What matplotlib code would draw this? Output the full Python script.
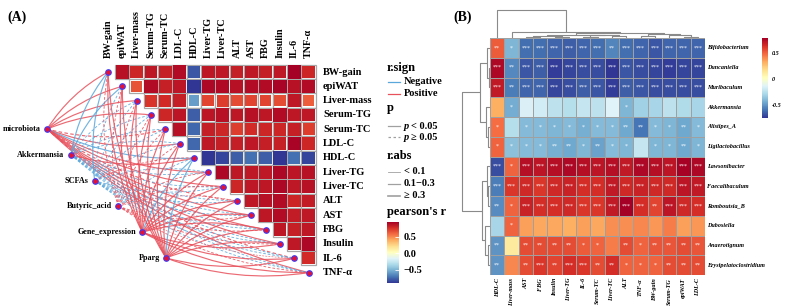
import numpy as np
import matplotlib.pyplot as plt
from matplotlib.patches import Rectangle, PathPatch
from matplotlib.path import Path
from matplotlib.colors import Normalize
from matplotlib.lines import Line2D
from matplotlib.cm import ScalarMappable

# ======= data =======

# panel A: trait-trait correlations (upper triangle, row i / col j>i)
VARS_A = ["BW-gain", "epiWAT", "Liver-mass", "Serum-TG", "Serum-TC", "LDL-C", "HDL-C",
          "Liver-TG", "Liver-TC", "ALT", "AST", "FBG", "Insulin", "IL-6", "TNF-α"]
R_A = [
    [0.88, 0.80, 0.86, 0.82, 0.90, -0.80, 0.86, 0.85, 0.83, 0.85, 0.83, 0.85, 0.95, 0.80],
    [0.66, 0.90, 0.82, 0.87, -0.90, 0.92, 0.91, 0.88, 0.90, 0.90, 0.93, 0.88, 0.90],
    [0.75, 0.78, 0.83, -0.58, 0.70, 0.72, 0.68, 0.70, 0.70, 0.68, 0.85, 0.62],
    [0.80, 0.87, -0.78, 0.87, 0.88, 0.86, 0.88, 0.86, 0.90, 0.86, 0.85],
    [0.88, -0.75, 0.83, 0.80, 0.72, 0.78, 0.80, 0.80, 0.82, 0.72],
    [-0.75, 0.85, 0.83, 0.83, 0.85, 0.83, 0.82, 0.93, 0.80],
    [-0.90, -0.85, -0.78, -0.72, -0.78, -0.90, -0.72, -0.85],
    [0.92, 0.86, 0.85, 0.85, 0.92, 0.87, 0.88],
    [0.80, 0.85, 0.86, 0.92, 0.85, 0.88],
    [0.85, 0.88, 0.90, 0.80, 0.84],
    [0.86, 0.90, 0.84, 0.85],
    [0.86, 0.82, 0.85],
    [0.85, 0.92],
    [0.78],
]

# panel A: links from the left nodes to each trait
SOURCES = ["microbiota", "Akkermansia", "SCFAs", "Butyric_acid", "Gene_expression", "Pparg"]
LINK_R = [
    [0.42, 0.38, 0.35, 0.40, 0.36, 0.41, -0.32, 0.44, 0.40, 0.37, 0.39, 0.43, 0.41, 0.38, 0.36],
    [-0.36, -0.33, -0.28, -0.22, -0.25, -0.27, 0.30, -0.24, -0.21, -0.26, -0.23, -0.25, -0.22, -0.20, -0.24],
    [-0.30, -0.27, -0.18, -0.20, -0.15, -0.22, 0.26, -0.19, -0.17, -0.14, -0.16, -0.21, -0.18, -0.12, -0.15],
    [0.20, 0.15, 0.12, 0.18, 0.10, 0.16, -0.14, 0.17, 0.13, 0.08, 0.11, 0.19, 0.15, 0.09, 0.12],
    [0.48, 0.45, 0.40, 0.44, 0.38, 0.46, -0.42, 0.50, 0.47, 0.41, 0.43, 0.45, 0.49, 0.44, 0.40],
    [0.52, 0.50, 0.44, 0.48, 0.42, 0.49, -0.46, 0.53, 0.50, 0.45, 0.47, 0.48, 0.51, 0.46, 0.44],
]
LINK_P = [
    [0.01, 0.02, 0.04, 0.01, 0.08, 0.01, 0.03, 0.01, 0.02, 0.12, 0.03, 0.01, 0.02, 0.09, 0.03],
    [0.03, 0.04, 0.06, 0.15, 0.10, 0.08, 0.04, 0.12, 0.20, 0.09, 0.11, 0.10, 0.14, 0.20, 0.13],
    [0.04, 0.07, 0.20, 0.15, 0.30, 0.12, 0.09, 0.18, 0.25, 0.30, 0.26, 0.14, 0.20, 0.35, 0.28],
    [0.20, 0.30, 0.40, 0.25, 0.50, 0.30, 0.40, 0.30, 0.40, 0.60, 0.50, 0.20, 0.30, 0.60, 0.40],
    [0.01, 0.01, 0.02, 0.01, 0.03, 0.01, 0.02, 0.01, 0.01, 0.02, 0.01, 0.01, 0.01, 0.02, 0.03],
    [0.01, 0.01, 0.01, 0.01, 0.02, 0.01, 0.01, 0.01, 0.01, 0.01, 0.01, 0.01, 0.01, 0.01, 0.02],
]

# panel B: genus x trait correlations and significance stars
ROWS_B = ["Bifidobacterium", "Duncaniella", "Muribaculum", "Akkermansia", "Alistipes_A",
          "Ligilactobacillus", "Lawsonibacter", "Faecalibaculum", "Romboutsia_B", "Dubosiella",
          "Anaerotignum", "Erysipelatoclostridium"]
COLS_B = ["HDL-C", "Liver-mass", "AST", "FBG", "Insulin", "Liver-TG", "IL-6", "Serum-TC",
          "Liver-TC", "ALT", "TNF-α", "BW-gain", "Serum-TG", "epiWAT", "LDL-C"]
R_B = [
    [0.52, -0.42, -0.62, -0.62, -0.64, -0.66, -0.64, -0.62, -0.56, -0.62, -0.64, -0.68, -0.64, -0.64, -0.64],
    [0.76, -0.55, -0.68, -0.66, -0.74, -0.72, -0.70, -0.70, -0.76, -0.68, -0.70, -0.72, -0.74, -0.72, -0.72],
    [0.70, -0.58, -0.64, -0.64, -0.72, -0.70, -0.66, -0.68, -0.74, -0.66, -0.68, -0.70, -0.70, -0.70, -0.70],
    [0.32, -0.45, -0.16, -0.18, -0.24, -0.26, -0.22, -0.24, -0.14, -0.42, -0.32, -0.30, -0.24, -0.28, -0.30],
    [0.48, -0.26, -0.40, -0.40, -0.42, -0.40, -0.44, -0.40, -0.40, -0.46, -0.60, -0.40, -0.42, -0.46, -0.40],
    [0.50, -0.38, -0.40, -0.40, -0.44, -0.46, -0.42, -0.48, -0.40, -0.42, -0.22, -0.42, -0.42, -0.46, -0.42],
    [-0.70, 0.50, 0.74, 0.72, 0.74, 0.76, 0.74, 0.72, 0.74, 0.70, 0.76, 0.74, 0.72, 0.78, 0.76],
    [-0.58, 0.62, 0.66, 0.62, 0.66, 0.68, 0.64, 0.64, 0.70, 0.66, 0.68, 0.66, 0.66, 0.72, 0.70],
    [-0.54, 0.50, 0.68, 0.64, 0.64, 0.66, 0.62, 0.62, 0.70, 0.79, 0.64, 0.58, 0.72, 0.66, 0.64],
    [-0.30, 0.50, 0.36, 0.34, 0.34, 0.32, 0.36, 0.34, 0.40, 0.40, 0.42, 0.38, 0.44, 0.36, 0.38],
    [-0.52, 0.12, 0.56, 0.56, 0.56, 0.56, 0.52, 0.50, 0.44, 0.56, 0.50, 0.54, 0.54, 0.56, 0.54],
    [-0.52, 0.42, 0.56, 0.62, 0.58, 0.64, 0.62, 0.56, 0.64, 0.50, 0.50, 0.50, 0.56, 0.56, 0.56],
]
STARS_B = [
    ["**", "*", "***", "***", "***", "***", "***", "***", "**", "***", "***", "***", "***", "***", "***"],
    ["***", "**", "***", "***", "***", "***", "***", "***", "***", "***", "***", "***", "***", "***", "***"],
    ["***", "**", "***", "***", "***", "***", "***", "***", "***", "***", "***", "***", "***", "***", "***"],
    ["", "*", "", "", "", "", "", "", "", "*", "", "", "", "", ""],
    ["*", "", "*", "*", "*", "*", "*", "*", "*", "**", "**", "*", "*", "**", "*"],
    ["*", "*", "*", "*", "**", "**", "*", "**", "*", "*", "", "*", "*", "**", "*"],
    ["***", "*", "***", "***", "***", "***", "***", "***", "***", "***", "***", "***", "***", "***", "***"],
    ["***", "***", "***", "***", "***", "***", "***", "***", "***", "***", "***", "***", "***", "***", "***"],
    ["**", "*", "***", "***", "***", "***", "***", "***", "***", "***", "***", "**", "***", "***", "***"],
    ["", "*", "", "", "", "", "", "", "", "", "", "", "", "", ""],
    ["**", "", "**", "**", "**", "**", "*", "*", "", "**", "*", "**", "**", "**", "**"],
    ["**", "", "**", "***", "**", "***", "***", "**", "**", "*", "*", "*", "**", "**", "**"],
]

# dendrograms: (height_px, left, right), leaves are display indices
ROW_TREE = (28, (10, (3, 0, (1, 1, 2)), (4, 3, (2, 4, 5))),
                (8, (3, 6, (2, 7, 8)), (5, 9, (2, 10, 11))))
COL_TREE = (28, 0, (6, 1, (5, (3.5, (2.5, (1.5, 2, 3), (1.2, 4, 5)), (2.8, (1.0, 6, 7), (2.0, 8, 9))),
                                (3.8, (2.5, 10, 11), (3.0, 12, (1.5, 13, 14))))))

# ======= style =======
W, H = 800, 308
CELL = 14.33
X0, Y0 = 108, 72
RED, BLUE = "#e8505b", "#5aa7dc"
CMAP = "RdYlBu_r"
SERIF = ["Liberation Serif", "DejaVu Serif"]

plt.rcParams["font.family"] = SERIF


def fx(x):
    return x / W


def fy(y):
    return 1 - y / H


fig = plt.figure(figsize=(W / 100, H / 100), dpi=100)

# ===== panel A =====
ax = fig.add_axes([0, 0, fx(385), 1])
ax.set_xlim((0 - X0) / CELL, (385 - X0) / CELL)
ax.set_ylim((H - Y0) / CELL, (0 - Y0) / CELL)
ax.axis("off")

all_r = [v for row in R_A for v in row]
norm_a = Normalize(min(all_r), max(all_r))
cmap_a = plt.get_cmap(CMAP)
n = len(VARS_A)
for i, row in enumerate(R_A):
    for k, r in enumerate(row):
        j = i + 1 + k
        ax.add_patch(Rectangle((j - 0.5, i - 0.5), 1, 1, facecolor="white",
                               edgecolor="#a8a8a8", lw=0.9, zorder=2))
        s = np.sqrt(abs(r)) * 0.97
        ax.add_patch(Rectangle((j - s / 2, i - s / 2), s, s, facecolor=cmap_a(norm_a(r)),
                               edgecolor="none", zorder=3))

for i, name in enumerate(VARS_A):
    ax.text(i, -0.95, name, rotation=90, ha="center", va="bottom", fontsize=7.3, fontweight="bold")
    ax.text(15.0, i, name, ha="left", va="center", fontsize=7.5, fontweight="bold")

src_x = np.linspace(-4.25, 4.05, len(SOURCES))
src_y = np.linspace(3.98, 12.98, len(SOURCES))


def width_of(r):
    a = abs(r)
    return 0.45 if a < 0.1 else (0.65 if a < 0.3 else 0.85)


for s, name in enumerate(SOURCES):
    p0 = np.array([src_x[s], src_y[s]])
    for t in range(n):
        r, p = LINK_R[s][t], LINK_P[s][t]
        p1 = np.array([t, t], dtype=float)
        d = p1 - p0
        perp = np.array([d[1], -d[0]]) if d[1] < 0 else np.array([-d[1], d[0]])
        ctrl = (p0 + p1) / 2 + 0.13 * perp
        path = Path([p0, ctrl, p1], [Path.MOVETO, Path.CURVE3, Path.CURVE3])
        ax.add_patch(PathPatch(path, fill=False, edgecolor=RED if r > 0 else BLUE,
                               lw=width_of(r), alpha=0.85,
                               linestyle="-" if p < 0.05 else (0, (3, 2)), zorder=1))
    ax.text(src_x[s] - 0.45, src_y[s], name, ha="right", va="center",
            fontsize=5.9, fontweight="bold")

ax.scatter(np.arange(n), np.arange(n), s=16, c="#e8112d", edgecolors="#3a3aff",
           linewidths=0.8, zorder=6)
ax.scatter(src_x, src_y, s=16, c="#e8112d", edgecolors="#3a3aff", linewidths=0.8, zorder=6)

fig.text(fx(7), fy(17), "(A)", fontsize=10, fontweight="bold", va="center")


# ----- legend A -----
def leg_title(y, txt):
    fig.text(fx(387), fy(y), txt, fontsize=9, fontweight="bold", va="center")


def leg_item(y, txt, color="#a0a0a0", ls="-", lw=0.9, italic_p=False):
    fig.add_artist(Line2D([fx(388), fx(400)], [fy(y), fy(y)], color=color, ls=ls, lw=lw))
    x = 404
    if italic_p:
        fig.text(fx(x), fy(y), "p", fontsize=7.5, fontweight="bold", style="italic", va="center")
        x += 7
    fig.text(fx(x), fy(y), txt, fontsize=7.5, fontweight="bold", va="center")


leg_title(68, "r.sign")
leg_item(82, "Negative", BLUE)
leg_item(94, "Positive", RED)
leg_title(108, "p")
leg_item(126, "< 0.05", italic_p=True)
leg_item(137, "≥ 0.05", ls=(0, (2, 2)), italic_p=True)
leg_title(156, "r.abs")
leg_item(172, "< 0.1", lw=0.6)
leg_item(184, "0.1−0.3", lw=0.9)
leg_item(196, "≥ 0.3", lw=1.2)
leg_title(212, "pearson's r")

cax_a = fig.add_axes([fx(387), fy(283), fx(12), 61 / H])
cb_a = fig.colorbar(ScalarMappable(norm=norm_a, cmap=cmap_a), cax=cax_a)
cb_a.outline.set_visible(False)
cb_a.set_ticks([0.5, 0.0, -0.5])
cb_a.set_ticklabels(["0.5", "0.0", "−0.5"])
cax_a.tick_params(length=3, width=0.6, color="white", direction="in", pad=3,
                  labelsize=7.5)
for lab in cax_a.get_yticklabels():
    lab.set_fontweight("bold")

# ===== panel B =====
vals = np.array(R_B)
norm_b = Normalize(vals.min(), vals.max())
axb = fig.add_axes([fx(490), fy(275), fx(215), 237 / H])
axb.pcolormesh(np.arange(16), np.arange(13), vals, cmap=CMAP, norm=norm_b,
               edgecolors="#a0a0a0", linewidth=0.4)
axb.set_xlim(0, 15)
axb.set_ylim(12, 0)
axb.axis("off")
for i in range(len(ROWS_B)):
    for j in range(len(COLS_B)):
        if STARS_B[i][j]:
            axb.text(j + 0.5, i + 0.5, STARS_B[i][j], color="white", fontsize=4.2,
                     ha="center", va="center")
for i, name in enumerate(ROWS_B):
    axb.text(15.15, i + 0.5, name, ha="left", va="center", fontsize=4.4,
             style="italic", fontweight="bold")
for j, name in enumerate(COLS_B):
    axb.text(j + 0.5, 12.15, name, ha="center", va="top", rotation=90, fontsize=4.4,
             style="italic", fontweight="bold")

fig.text(fx(453), fy(17), "(B)", fontsize=10, fontweight="bold", va="center")


def draw_tree(a, node, orient):
    if not isinstance(node, tuple):
        return node + 0.5, 0
    h, left, right = node
    c1, h1 = draw_tree(a, left, orient)
    c2, h2 = draw_tree(a, right, orient)
    xs, ys = [c1, c1, c2, c2], [h1, h, h, h2]
    if orient == "left":
        xs, ys = ys, xs
    a.plot(xs, ys, color="#8a8a8a", lw=0.8, solid_capstyle="butt")
    return (c1 + c2) / 2, h


axr = fig.add_axes([fx(461), fy(275), fx(29), 237 / H])
draw_tree(axr, ROW_TREE, "left")
axr.set_xlim(29, 0)
axr.set_ylim(12, 0)
axr.axis("off")

axc = fig.add_axes([fx(490), fy(38), fx(215), 29 / H])
draw_tree(axc, COL_TREE, "top")
axc.set_xlim(0, 15)
axc.set_ylim(0, 29)
axc.axis("off")

cax_b = fig.add_axes([fx(762), fy(118), fx(6), 80 / H])
cb_b = fig.colorbar(ScalarMappable(norm=norm_b, cmap=CMAP), cax=cax_b)
cb_b.outline.set_visible(False)
cb_b.set_ticks([0.5, 0, -0.5])
cb_b.set_ticklabels(["0.5", "0", "-0.5"])
cax_b.tick_params(length=0, pad=3, labelsize=4.4)
for lab in cax_b.get_yticklabels():
    lab.set_fontstyle("italic")
    lab.set_fontweight("bold")

fig.savefig("out.png", dpi=100)
